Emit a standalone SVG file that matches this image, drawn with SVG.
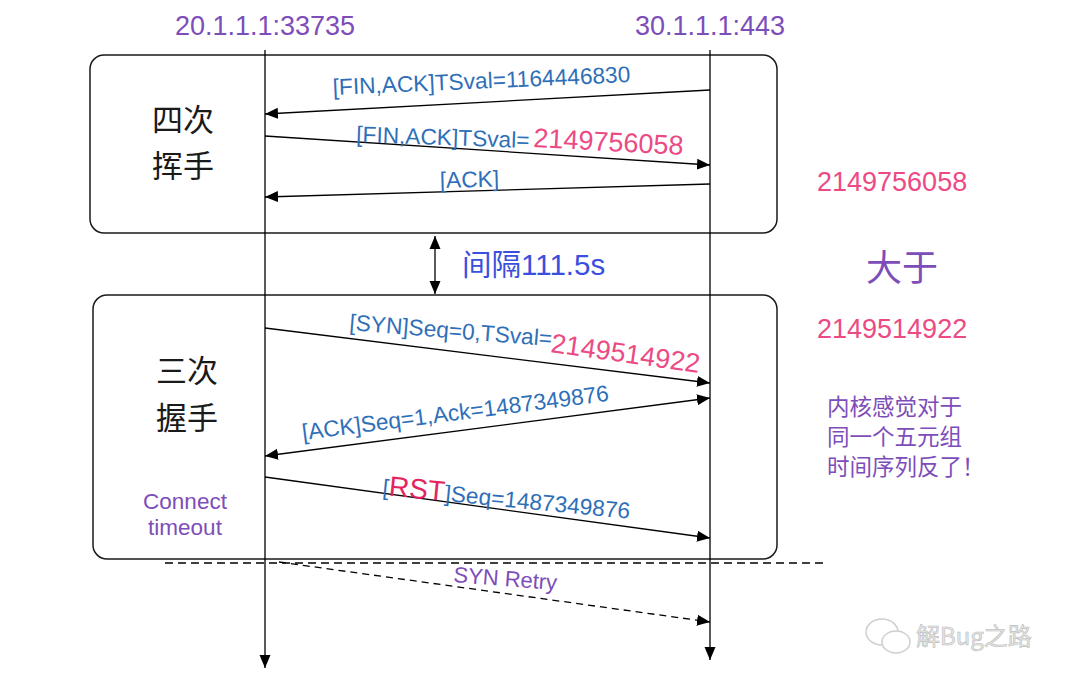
<svg xmlns="http://www.w3.org/2000/svg" width="1080" height="691" viewBox="0 0 1080 691">
<defs>
<marker id="arr" markerUnits="userSpaceOnUse" markerWidth="14" markerHeight="12" refX="13" refY="5.5" orient="auto-start-reverse" viewBox="0 0 14 11">
<path d="M0,0 L13,5.5 L0,11 z" fill="#000"/>
</marker>
<style>
.lt{font-family:"Liberation Sans","Noto Sans CJK SC",sans-serif;}
.cjk{font-family:"Noto Sans CJK SC","Liberation Sans",sans-serif;}
.blue{fill:#2F6FB8;font-size:22.7px;}
.pink{fill:#EC4A85;}
.purple{fill:#7D4DBA;}
.box{fill:#fff;stroke:#1a1a1a;stroke-width:1.5;}
.ln{stroke:#000;stroke-width:1.3;fill:none;}
.msg{stroke:#000;stroke-width:1.3;fill:none;marker-end:url(#arr);}
</style>
</defs>
<rect width="1080" height="691" fill="#fff"/>

<g id="box-fin">
<rect class="box" x="90" y="55" width="687" height="178" rx="14"/>
<text class="cjk" x="183" y="131" font-size="31" fill="#1a1a1a" text-anchor="middle">四次</text>
<text class="cjk" x="183" y="177" font-size="31" fill="#1a1a1a" text-anchor="middle">挥手</text>
</g>
<g id="box-syn">
<rect class="box" x="93" y="295" width="684" height="264" rx="14"/>
<text class="cjk" x="187" y="382" font-size="31" fill="#1a1a1a" text-anchor="middle">三次</text>
<text class="cjk" x="187" y="429" font-size="31" fill="#1a1a1a" text-anchor="middle">握手</text>
<text class="lt purple" x="185" y="509" font-size="22.5" text-anchor="middle">Connect</text>
<text class="lt purple" x="185" y="535" font-size="22.5" text-anchor="middle">timeout</text>
</g>

<g id="client">
<text class="lt purple" x="265" y="35" font-size="27" text-anchor="middle">20.1.1.1:33735</text>
</g>
<g id="server">
<text class="lt purple" x="710" y="35" font-size="27" text-anchor="middle">30.1.1.1:443</text>
</g>

<g id="connectors">
<line class="ln" x1="265" y1="50" x2="265" y2="668" marker-end="url(#arr)"/>
<line class="ln" x1="710" y1="50" x2="710" y2="660" marker-end="url(#arr)"/>
<line class="msg" x1="710" y1="90" x2="265" y2="114"/>
<line class="msg" x1="265" y1="136" x2="710" y2="165"/>
<line class="msg" x1="710" y1="184" x2="265" y2="197"/>
<line class="ln" x1="435" y1="236" x2="435" y2="294" marker-start="url(#arr)" marker-end="url(#arr)"/>
<line class="msg" x1="265" y1="328" x2="710" y2="383"/>
<line class="ln" x1="265" y1="456" x2="710" y2="398" marker-start="url(#arr)" marker-end="url(#arr)"/>
<line class="msg" x1="265" y1="477" x2="710" y2="538"/>
<line class="ln" x1="165" y1="563" x2="828" y2="563" stroke-dasharray="8,5"/>
<line class="msg" x1="279" y1="562" x2="710" y2="622" stroke-dasharray="7,5"/>
</g>

<g id="labels">
<text class="lt blue" transform="translate(333 95) rotate(-2.5)">[FIN,ACK]TSval=1164446830</text>
<text class="lt blue" transform="translate(356 142) rotate(2)">[FIN,ACK]TSval=</text>
<text class="lt pink" font-size="27" transform="translate(533 147) rotate(3)">2149756058</text>
<text class="lt blue" transform="translate(440 188) rotate(-1.5)">[ACK]</text>
<text class="lt" font-size="29.5" fill="#3A4FDE" x="462" y="275"><tspan class="cjk">间隔</tspan>111.5s</text>
<text class="lt blue" transform="translate(349 330) rotate(4.6)">[SYN]Seq=0,TSval=</text>
<text class="lt pink" font-size="27" transform="translate(550 352) rotate(8)">2149514922</text>
<text class="lt blue" transform="translate(303 440) rotate(-7.3)">[ACK]Seq=1,Ack=1487349876</text>
<text class="lt blue" transform="translate(382 495) rotate(5.5)">[<tspan fill="#E3245F" font-size="28">RST</tspan>]Seq=1487349876</text>
<text class="lt purple" font-size="22" transform="translate(453 582) rotate(4.5)">SYN Retry</text>
</g>

<g id="note">
<text class="lt pink" x="817" y="191" font-size="27">2149756058</text>
<text class="cjk purple" x="902" y="281" font-size="36" text-anchor="middle">大于</text>
<text class="lt pink" x="817" y="338" font-size="27">2149514922</text>
<text class="cjk purple" x="827" y="415" font-size="22.5">内核感觉对于</text>
<text class="cjk purple" x="827" y="445" font-size="22.5">同一个五元组</text>
<text class="cjk purple" x="827" y="475" font-size="22.5">时间序列反了！</text>
</g>

<g id="watermark">
<ellipse cx="882" cy="632" rx="16" ry="13" fill="#fff" stroke="#cfcfcf" stroke-width="1.5"/>
<ellipse cx="896" cy="642" rx="14" ry="11" fill="#fff" stroke="#cfcfcf" stroke-width="1.5"/>
<text class="cjk" x="916" y="645" font-size="24" fill="#e6e6e6" stroke="#bdbdbd" stroke-width="0.6">解Bug之路</text>
</g>
</svg>
